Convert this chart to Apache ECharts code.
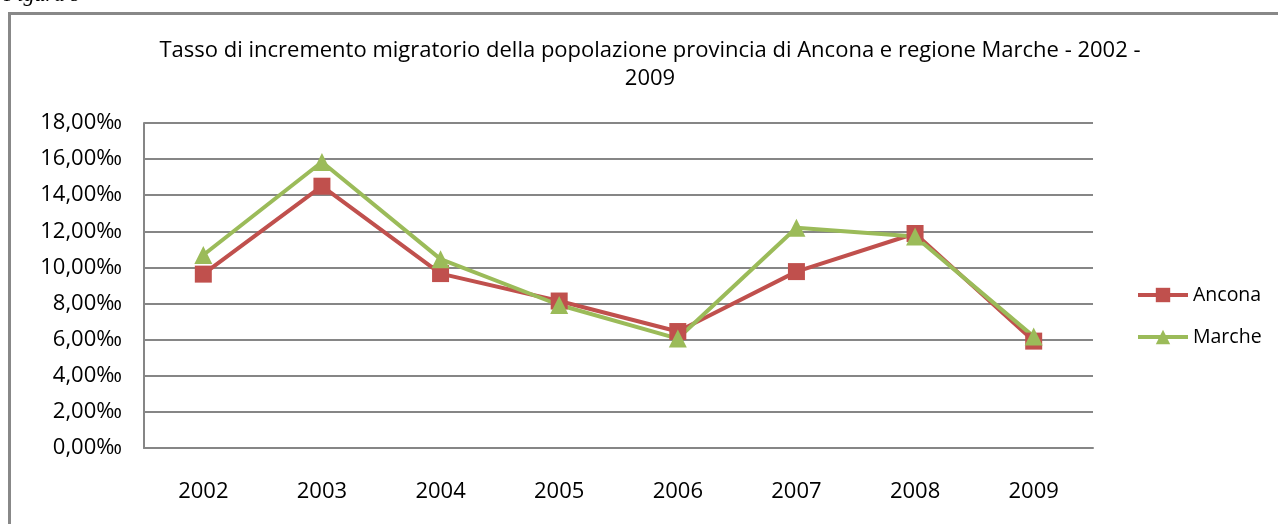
<!DOCTYPE html>
<html>
<head>
<meta charset="utf-8">
<script src="https://cdn.jsdelivr.net/npm/echarts@6/dist/echarts.min.js"></script>
<style>
  html, body { margin: 0; padding: 0; background: #fff; }
  #chart { width: 1278px; height: 524px; }
</style>
</head>
<body>
<div id="chart"></div>
<script>
  // dati (per mille)
  const anni = ['2002', '2003', '2004', '2005', '2006', '2007', '2008', '2009']
  const ancona = [9.63, 14.5, 9.66, 8.14, 6.45, 9.77, 11.88, 5.92]
  const marche = [10.69, 15.84, 10.46, 7.92, 6.06, 12.2, 11.71, 6.17]
  const yTicks = [0, 2, 4, 6, 8, 10, 12, 14, 16, 18]

  const font = 'Open Sans, Noto Sans, sans-serif'
  const chart = echarts.init(document.getElementById('chart'))
  const option = {
    animation: false,
    backgroundColor: '#fff',
    color: ['#C0504D', '#9BBB59'],
    title: {
      text: 'Tasso di incremento migratorio della popolazione provincia di Ancona e regione Marche - 2002 -\n2009',
      left: 645,
      textAlign: 'center',
      top: 32,
      textStyle: { fontFamily: font, fontSize: 22, fontWeight: 'normal', color: '#000', lineHeight: 28 }
    },
    legend: {
      orient: 'vertical',
      left: 1131,
      top: 280,
      itemGap: 22,
      itemWidth: 50,
      itemHeight: 18,
      lineStyle: { width: 4 },
      textStyle: { fontFamily: font, fontSize: 19.5, color: '#000' },
      data: ['Ancona', 'Marche']
    },
    grid: { left: 144, right: 185, top: 123, bottom: 76 },
    xAxis: {
      type: 'category',
      data: anni,
      boundaryGap: true,
      axisLine: { lineStyle: { color: '#868686', width: 2 } },
      axisTick: { show: false },
      axisLabel: { margin: 33, fontFamily: font, fontSize: 22, color: '#000' }
    },
    yAxis: {
      type: 'value',
      min: yTicks[0],
      max: yTicks[yTicks.length - 1],
      interval: 2,
      axisLine: { show: true, lineStyle: { color: '#868686', width: 2 } },
      axisTick: { show: false },
      splitLine: { lineStyle: { color: '#868686', width: 2 } },
      axisLabel: {
        margin: 22,
        fontFamily: font, fontSize: 22, color: '#000',
        formatter: v => v.toFixed(2).replace('.', ',') + '‰'
      }
    },
    series: [
      {
        name: 'Ancona', type: 'line', data: ancona,
        symbol: 'rect', symbolSize: 17,
        lineStyle: { width: 4 }
      },
      {
        name: 'Marche', type: 'line', data: marche,
        symbol: 'triangle', symbolSize: 18,
        lineStyle: { width: 4 }
      }
    ],
    graphic: [
      {
        type: 'rect', left: 7, top: 11, silent: true,
        shape: { width: 1400, height: 700 },
        style: { fill: 'none', stroke: '#888', lineWidth: 3 }
      },
      {
        type: 'text', left: 4, top: -16, silent: true,
        style: { text: 'Figura 9', fill: '#000', font: 'italic 22px "Liberation Serif", serif' }
      }
    ]
  }
  chart.setOption(option)
</script>
</body>
</html>
